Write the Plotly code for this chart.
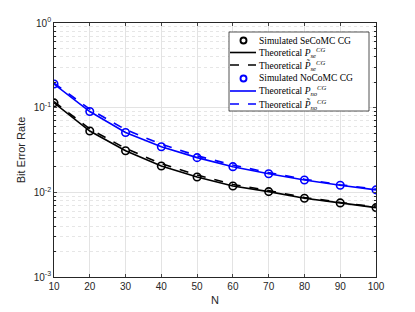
import plotly.graph_objects as go

N = [10, 20, 30, 40, 50, 60, 70, 80, 90, 100]
sim_se = [0.114, 0.053, 0.031, 0.0205, 0.0152, 0.0119, 0.0102, 0.0085, 0.0075, 0.0066]
theo_se = [0.114, 0.053, 0.031, 0.0205, 0.0152, 0.0119, 0.0102, 0.0085, 0.0075, 0.0066]
approx_se = [0.118, 0.056, 0.033, 0.0218, 0.016, 0.0124, 0.0105, 0.0087, 0.0076, 0.0067]
sim_no = [0.19, 0.09, 0.051, 0.0346, 0.0257, 0.0201, 0.0166, 0.014, 0.0121, 0.0107]
theo_no = [0.19, 0.09, 0.051, 0.0346, 0.0257, 0.0201, 0.0166, 0.014, 0.0121, 0.0107]
approx_no = [0.195, 0.096, 0.055, 0.037, 0.027, 0.021, 0.0171, 0.0143, 0.0123, 0.0109]
ytick_vals = [1e-3, 1e-2, 1e-1, 1]
ytick_text = ["10<sup>-3</sup>", "10<sup>-2</sup>", "10<sup>-1</sup>", "10<sup>0</sup>"]
legend_labels = [
    "Simulated SeCoMC CG",
    "Theoretical <i>P</i><sub><i>se</i></sub><sup><i>CG</i></sup>",
    "Theoretical <i>P̃</i><sub><i>se</i></sub><sup><i>CG</i></sup>",
    "Simulated NoCoMC CG",
    "Theoretical <i>P</i><sub><i>no</i></sub><sup><i>CG</i></sup>",
    "Theoretical <i>P̃</i><sub><i>no</i></sub><sup><i>CG</i></sup>",
]

BLUE = "#0000ff"
BLACK = "#000000"
# the page body has an 8px margin, so the figure is drawn 8px in from the window corner
OFF = 8
W, H = 415 - OFF, 312 - OFF
ML, MR, MT, MB = 54 - OFF, 39, 23 - OFF, 35
PW, PH = W - ML - MR, H - MT - MB

def px_x(p):  # window pixel -> paper
    return (p - OFF - ML) / PW

def px_y(p):
    return (H - MB - (p - OFF)) / PH

fig = go.Figure()
series = [
    (sim_se, "markers", BLACK, None),
    (theo_se, "lines", BLACK, "solid"),
    (approx_se, "lines", BLACK, "dash"),
    (sim_no, "markers", BLUE, None),
    (theo_no, "lines", BLUE, "solid"),
    (approx_no, "lines", BLUE, "dash"),
]
for (vals, mode, col, dash), lab in zip(series, legend_labels):
    if mode == "markers":
        fig.add_trace(go.Scatter(x=N, y=vals, mode="markers", name=lab, showlegend=False,
                                 marker=dict(symbol="circle-open", size=7.5, color=col,
                                             line=dict(width=1.6))))
    else:
        fig.add_trace(go.Scatter(x=N, y=vals, mode="lines", name=lab, showlegend=False,
                                 line=dict(color=col, width=1.6, dash=dash)))

# manual legend (box, samples, labels)
shapes = []
annotations = []
box_l, box_r, box_t, box_b = 229, 369, 32, 111
shapes.append(dict(type="rect", xref="paper", yref="paper",
                   x0=px_x(box_l), x1=px_x(box_r), y0=px_y(box_b), y1=px_y(box_t),
                   fillcolor="white", line=dict(color="#262626", width=0.8), layer="above"))
row_y = [40.5, 52.5, 65, 78.5, 91, 104]
for (vals, mode, col, dash), lab, yy in zip(series, legend_labels, row_y):
    if mode == "markers":
        shapes.append(dict(type="circle", xref="paper", yref="paper",
                           xsizemode="pixel", ysizemode="pixel",
                           xanchor=px_x(243.5), yanchor=px_y(yy),
                           x0=-3, x1=3, y0=-3, y1=3,
                           line=dict(color=col, width=1.9), layer="above"))
    else:
        shapes.append(dict(type="line", xref="paper", yref="paper",
                           x0=px_x(230), x1=px_x(256), y0=px_y(yy), y1=px_y(yy),
                           line=dict(color=col, width=1.6, dash=dash), layer="above"))
    annotations.append(dict(xref="paper", yref="paper", x=px_x(258), y=px_y(yy),
                            xanchor="left", yanchor="middle", text=lab, showarrow=False,
                            borderpad=0,
                            font=dict(family="Liberation Serif, Times New Roman", size=9.5,
                                      color="black")))

fig.update_layout(
    width=W, height=H,
    margin=dict(l=ML, r=MR, t=MT, b=MB, autoexpand=False),
    paper_bgcolor="white", plot_bgcolor="white",
    font=dict(family="Liberation Sans, Arial", size=10, color="#262626"),
    showlegend=False,
    shapes=shapes, annotations=annotations,
)
fig.update_xaxes(range=[10, 100], tickvals=N, ticks="inside", ticklen=3, automargin=True,
                 showline=True, linecolor="#262626", linewidth=0.8, mirror="ticks",
                 showgrid=True, gridcolor="#e3e3e3", gridwidth=0.8, zeroline=False,
                 title=dict(text="N", font=dict(size=11), standoff=5))
fig.update_yaxes(type="log", range=[-3, 0], tickvals=ytick_vals, ticktext=ytick_text,
                 ticks="inside", ticklen=3, automargin=True,
                 showline=True, linecolor="#262626", linewidth=0.8, mirror="ticks",
                 showgrid=True, gridcolor="#e3e3e3", gridwidth=0.8, zeroline=False,
                 minor=dict(dtick="D1", ticks="inside", ticklen=2, tickcolor="#262626",
                            showgrid=True, gridcolor="#e6e6e6", griddash="dot", gridwidth=0.8),
                 title=dict(text="Bit Error Rate", font=dict(size=11), standoff=5))

fig.write_html("out.html")
